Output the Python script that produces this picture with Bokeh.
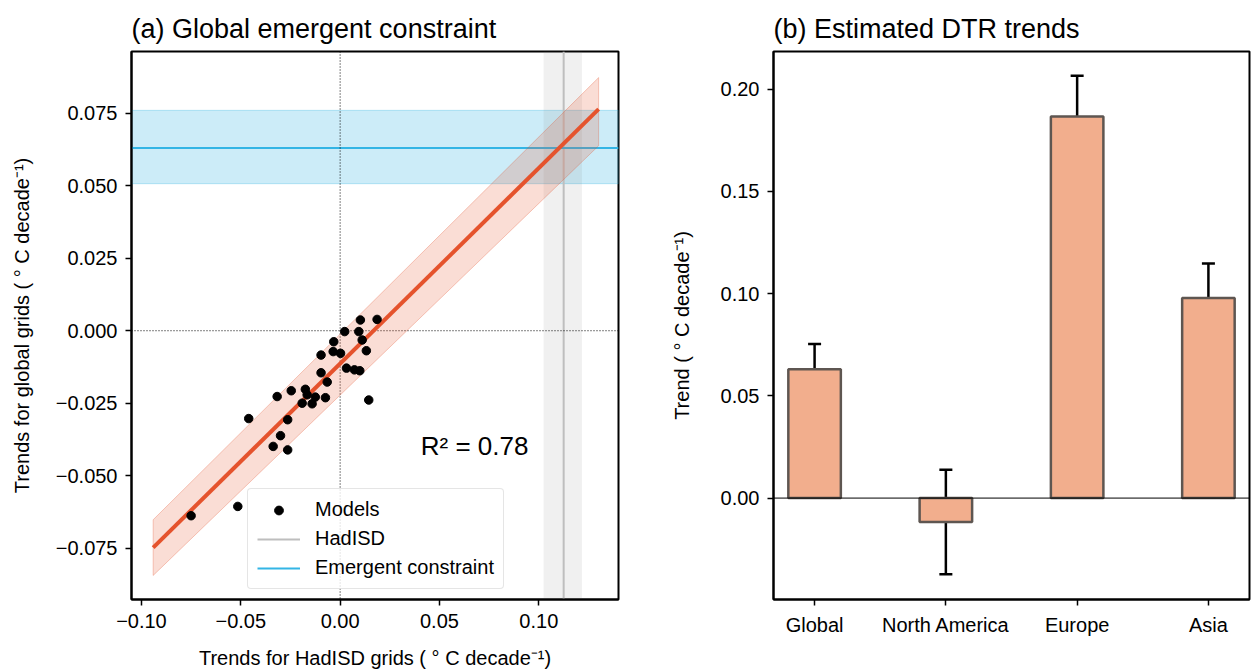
from bokeh.plotting import figure
from bokeh.models import (Span, BoxAnnotation, Label, Legend, LegendItem,
                          FixedTicker, Whisker, ColumnDataSource, TeeHead, Range1d)
from bokeh.layouts import row
from bokeh.embed import file_html
from bokeh.resources import INLINE

FONT = "Liberation Sans"
NAN = float("nan")

# ---------------- panel (a) data ----------------
model_x = [-0.0750, -0.0515, -0.0460, -0.0317, -0.0246, -0.0264, -0.0300, -0.0337,
           -0.0264, -0.0175, -0.0166, -0.0191, -0.0141, -0.0125, -0.0074, -0.0065,
           -0.0096, -0.0096, -0.0032, -0.0035, 0.0002, 0.0023, 0.0032, 0.0072,
           0.0099, 0.0102, 0.0094, 0.0111, 0.0132, 0.0186, 0.0144]
model_y = [-0.0638, -0.0606, -0.0303, -0.0227, -0.0207, -0.0307, -0.0362, -0.0399,
           -0.0411, -0.0202, -0.0221, -0.0250, -0.0252, -0.0229, -0.0231, -0.0177,
           -0.0145, -0.0084, -0.0038, -0.0072, -0.0078, -0.0003, -0.0129, -0.0135,
           -0.0138, 0.0037, -0.0003, -0.0032, -0.0069, 0.0039, -0.0239]
fit_x = [-0.0941, 0.1301]
fit_y = [-0.0748, 0.0764]
fit_lower = [-0.0844, 0.0638]
fit_upper = [-0.0652, 0.0873]
hadisd_trend = 0.1125
hadisd_lower = 0.1024
hadisd_upper = 0.1217
constraint_mean = 0.0630
constraint_lower = 0.0507
constraint_upper = 0.0760
r_squared = "0.78"

a_xticks = [-0.10, -0.05, 0.00, 0.05, 0.10]
a_xlabels = ["\u22120.10", "\u22120.05", "0.00", "0.05", "0.10"]
a_yticks = [-0.075, -0.050, -0.025, 0.0, 0.025, 0.050, 0.075]
a_ylabels = ["\u22120.075", "\u22120.050", "\u22120.025", "0.000", "0.025", "0.050", "0.075"]

# ---------------- panel (b) data ----------------
regions = ["Global", "North America", "Europe", "Asia"]
region_trend = [0.0630, -0.0117, 0.1866, 0.0978]
region_lower = [0.0505, -0.0372, 0.1667, 0.0811]
region_upper = [0.0753, 0.0139, 0.2065, 0.1147]
b_yticks = [0.00, 0.05, 0.10, 0.15, 0.20]
b_ylabels = ["0.00", "0.05", "0.10", "0.15", "0.20"]

title_a = "(a) Global emergent constraint"
title_b = "(b) Estimated DTR trends"

ORANGE = "#E5532D"
BLUE = "#33B5E5"
GREY = "#BEBEBE"
BAR_FILL = "#F2AE8D"
BAR_EDGE = "#5E5651"

HEIGHT = 671
TOP, BOTTOM = 51, 72


def style(p):
    p.background_fill_color = "white"
    p.border_fill_color = "white"
    p.outline_line_color = "black"
    p.outline_line_width = 2
    p.xgrid.visible = False
    p.ygrid.visible = False
    p.title.text_font = FONT
    p.title.text_font_size = "27px"
    p.title.text_font_style = "normal"
    p.title.text_color = "black"
    p.title.align = "left"
    p.title.offset = 0
    p.title.vertical_align = "top"
    p.title.standoff = 12
    for ax in list(p.xaxis) + list(p.yaxis):
        ax.axis_line_color = "black"
        ax.axis_line_width = 2
        ax.major_tick_line_color = "black"
        ax.major_tick_line_width = 1.5
        ax.major_tick_out = 6
        ax.major_tick_in = 0
        ax.minor_tick_line_color = None
        ax.major_label_text_font = FONT
        ax.major_label_text_font_size = "20px"
        ax.major_label_text_color = "black"
        ax.major_label_standoff = 8
        ax.axis_label_text_font = FONT
        ax.axis_label_text_font_size = "20px"
        ax.axis_label_text_font_style = "normal"
        ax.axis_label_text_color = "black"


# ---------------- figure (a) ----------------
p1 = figure(width=643, height=HEIGHT, output_backend="svg", toolbar_location=None,
            x_range=Range1d(-0.105, 0.1401), y_range=Range1d(-0.0927, 0.0963),
            min_border_left=131, min_border_right=25, min_border_top=TOP, min_border_bottom=BOTTOM,
            title=title_a)
style(p1)
p1.xaxis.axis_label = "Trends for HadISD grids ( \u00b0 C decade\u207b\u00b9)"
p1.yaxis.axis_label = "Trends for global grids ( \u00b0 C decade\u207b\u00b9)"
p1.xaxis.axis_label_standoff = 16
p1.xaxis.axis_label_text_line_height = 0.9
p1.yaxis.axis_label_standoff = 20
p1.xaxis.ticker = FixedTicker(ticks=a_xticks)
p1.yaxis.ticker = FixedTicker(ticks=a_yticks)
p1.xaxis.major_label_overrides = dict(zip(a_xticks, a_xlabels))
p1.yaxis.major_label_overrides = dict(zip(a_yticks, a_ylabels))

p1.add_layout(BoxAnnotation(bottom=constraint_lower, top=constraint_upper,
                            fill_color=BLUE, fill_alpha=0.25, line_color=BLUE,
                            line_alpha=0.3, line_width=1, level="underlay"))
p1.add_layout(BoxAnnotation(left=hadisd_lower, right=hadisd_upper,
                            fill_color="#808080", fill_alpha=0.12, line_color=None,
                            level="underlay"))
p1.add_layout(Span(location=hadisd_trend, dimension="height", line_color=GREY,
                   line_width=2, level="underlay"))
p1.add_layout(Span(location=constraint_mean, dimension="width", line_color=BLUE,
                   line_width=2, level="underlay"))
p1.add_layout(Span(location=0, dimension="height", line_color="black",
                   line_width=1, line_dash="1 2", level="underlay"))
p1.add_layout(Span(location=0, dimension="width", line_color="black",
                   line_width=1, line_dash="1 2", level="underlay"))

band_x = fit_x + fit_x[::-1]
band_y = fit_lower + fit_upper[::-1]
p1.patch(band_x, band_y, fill_color=ORANGE, fill_alpha=0.2,
         line_color=ORANGE, line_alpha=0.3, line_width=1)
p1.line(fit_x, fit_y, line_color=ORANGE, line_width=4)
r_models = p1.scatter(model_x, model_y, size=8.5, fill_color="black", line_color="black")
# legend-only renderers (single NaN point, draws nothing in the plot)
r_had = p1.line([NAN], [NAN], line_color=GREY, line_width=2)
r_con = p1.line([NAN], [NAN], line_color=BLUE, line_width=2)

legend = Legend(items=[LegendItem(label="Models", renderers=[r_models]),
                       LegendItem(label="HadISD", renderers=[r_had]),
                       LegendItem(label="Emergent constraint", renderers=[r_con])],
                location=(116, 10), margin=0, padding=9, spacing=6,
                glyph_width=43, glyph_height=22, label_height=22, label_standoff=15,
                label_text_font=FONT, label_text_font_size="20px",
                label_text_color="black",
                border_line_color="#CCCCCC", border_line_width=1.5,
                background_fill_color="white", background_fill_alpha=0.8)
if "border_radius" in Legend.properties():
    legend.border_radius = 4
p1.add_layout(legend)

p1.add_layout(Label(x=0.0406, y=-0.0397, text="R\u00b2 = " + r_squared,
                    text_font=FONT, text_font_size="26px", text_color="black",
                    text_baseline="alphabetic"))

# ---------------- figure (b) ----------------
xpos = list(range(len(regions)))
src = ColumnDataSource(dict(x=xpos, top=region_trend, lower=region_lower, upper=region_upper))

p2 = figure(width=609, height=HEIGHT, output_backend="svg", toolbar_location=None,
            x_range=Range1d(-0.313, 3.313), y_range=Range1d(-0.0496, 0.2184),
            min_border_left=130, min_border_right=3, min_border_top=TOP, min_border_bottom=BOTTOM,
            title=title_b)
style(p2)
p2.yaxis.axis_label = "Trend ( \u00b0 C decade\u207b\u00b9)"
p2.yaxis.axis_label_standoff = 25
p2.xaxis.ticker = FixedTicker(ticks=xpos)
p2.xaxis.major_label_overrides = dict(zip(xpos, regions))
p2.yaxis.ticker = FixedTicker(ticks=b_yticks)
p2.yaxis.major_label_overrides = dict(zip(b_yticks, b_ylabels))

p2.vbar(x="x", top="top", bottom=0, width=0.4, source=src,
        fill_color=BAR_FILL, line_color=BAR_EDGE, line_width=2.5)
p2.add_layout(Span(location=0, dimension="width", line_color="black", line_width=1))
p2.add_layout(Whisker(base="x", upper="upper", lower="lower", source=src,
                      line_color="black", line_width=2.5,
                      upper_head=TeeHead(size=13, line_color="black", line_width=2.5),
                      lower_head=TeeHead(size=13, line_color="black", line_width=2.5)))

layout = row(p1, p2)
open("out.html", "w").write(file_html(layout, INLINE))
